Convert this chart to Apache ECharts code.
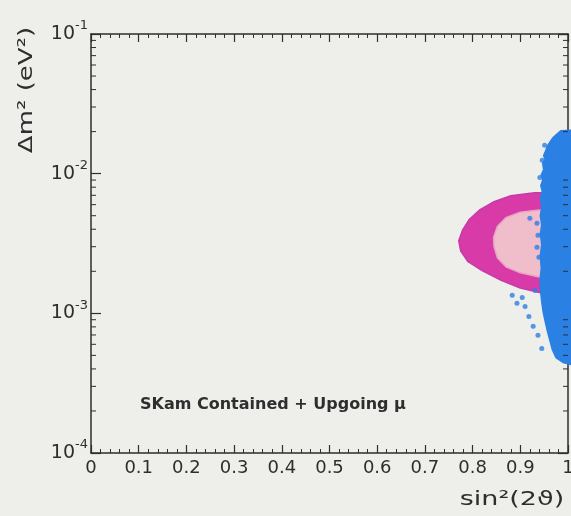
<!DOCTYPE html>
<html>
<head>
<meta charset="utf-8">
<script src="https://cdn.jsdelivr.net/npm/echarts@6/dist/echarts.min.js"></script>
<style>
  html, body { margin: 0; padding: 0; background: #eeeeea; }
  #chart { width: 571px; height: 516px; }
</style>
</head>
<body>
<div id="chart"></div>
<script>
// Outer (90% CL) allowed contour, [sin²2θ, Δm² in eV²]
const outerContour = [
  [1.0, 7.3e-3], [0.93, 7.3e-3], [0.88, 6.95e-3], [0.845, 6.3e-3], [0.815, 5.5e-3],
  [0.793, 4.7e-3], [0.779, 3.95e-3], [0.771, 3.3e-3], [0.775, 2.8e-3], [0.79, 2.35e-3],
  [0.82, 2.02e-3], [0.86, 1.72e-3], [0.9, 1.52e-3], [0.945, 1.4e-3], [1.0, 1.38e-3]
];

// Inner (68% CL) allowed contour
const innerContour = [
  [1.0, 5.5e-3], [0.94, 5.5e-3], [0.9, 5.3e-3], [0.87, 4.85e-3], [0.852, 4.2e-3],
  [0.844, 3.5e-3], [0.845, 3.0e-3], [0.852, 2.5e-3], [0.87, 2.15e-3], [0.9, 1.95e-3],
  [0.94, 1.82e-3], [1.0, 1.8e-3]
];

// Boundary of the dense blue point cloud
const cloudEdge = [
  [1.006, 2.05e-2], [0.985, 2.03e-2], [0.975, 1.9e-2], [0.968, 1.8e-2], [0.962, 1.68e-2],
  [0.957, 1.58e-2], [0.953, 1.45e-2], [0.949, 1.35e-2], [0.952, 1.27e-2], [0.947, 1.18e-2],
  [0.949, 1.07e-2], [0.944, 9.8e-3], [0.947, 9.0e-3], [0.943, 8.2e-3], [0.946, 7.5e-3],
  [0.942, 6.6e-3], [0.945, 5.8e-3], [0.942, 5.0e-3], [0.945, 4.3e-3], [0.942, 3.7e-3],
  [0.945, 3.1e-3], [0.942, 2.6e-3], [0.944, 2.1e-3], [0.941, 1.7e-3], [0.943, 1.4e-3],
  [0.945, 1.2e-3], [0.948, 1.02e-3], [0.952, 8.8e-4], [0.957, 7.4e-4], [0.962, 6.4e-4],
  [0.967, 5.5e-4], [0.975, 4.8e-4], [0.99, 4.45e-4], [1.006, 4.3e-4]
];

// Isolated points scattered off the cloud edge
const cloudStrays = [
  [0.920, 4.8e-3], [0.935, 4.42e-3], [0.937, 3.62e-3], [0.935, 2.97e-3], [0.939, 2.52e-3],
  [0.883, 1.35e-3], [0.904, 1.30e-3], [0.893, 1.18e-3], [0.910, 1.12e-3], [0.918, 9.5e-4],
  [0.927, 8.07e-4], [0.937, 6.96e-4], [0.945, 5.61e-4], [0.931, 1.46e-3], [0.951, 1.6e-2],
  [0.946, 1.25e-2], [0.941, 9.4e-3]
];

const xTickLabels = ['0', '0.1', '0.2', '0.3', '0.4', '0.5', '0.6', '0.7', '0.8', '0.9', '1'];
const yDecades = [-4, -3, -2, -1];

const FONT = 'DejaVu Sans';
const INK = '#2e2e2e';

// log-axis minor tick values (2..9 within each decade)
const logMinorValues = [];
for (let d = yDecades[0]; d < yDecades[yDecades.length - 1]; d++) {
  for (let m = 2; m <= 9; m++) logMinorValues.push([0, m * Math.pow(10, d)]);
}

function polygonRenderer(points, fill, stroke) {
  return function (params, api) {
    if (params.dataIndex !== 0) return null;
    return {
      type: 'polygon',
      shape: { points: points.map(function (p) { return api.coord(p); }) },
      style: { fill: fill, stroke: stroke || fill, lineWidth: 1.5 }
    };
  };
}

const chart = echarts.init(document.getElementById('chart'), null, { renderer: 'canvas' });

chart.setOption({
  backgroundColor: '#eeeeea',
  animation: false,
  grid: { left: 91, right: 3, top: 34, bottom: 63, containLabel: false, outerBoundsMode: 'none' },
  xAxis: [
    {
      type: 'value', min: 0, max: 1, interval: 0.1, position: 'bottom',
      axisLine: { onZero: false, lineStyle: { color: INK, width: 1.5 } },
      axisTick: { inside: true, length: 8, lineStyle: { color: INK, width: 1.2 } },
      minorTick: { show: true, splitNumber: 5, length: 4, lineStyle: { color: INK, width: 1 } },
      splitLine: { show: false },
      axisLabel: {
        margin: 6, fontFamily: FONT, fontSize: 18, color: INK,
        formatter: function (v, i) { return xTickLabels[i]; }
      }
    },
    {
      type: 'value', min: 0, max: 1, interval: 0.1, position: 'top',
      axisLine: { onZero: false, lineStyle: { color: INK, width: 1.5 } },
      axisTick: { inside: true, length: 8, lineStyle: { color: INK, width: 1.2 } },
      minorTick: { show: true, splitNumber: 5, length: 4, lineStyle: { color: INK, width: 1 } },
      splitLine: { show: false },
      axisLabel: { show: false }
    }
  ],
  yAxis: [
    {
      type: 'log', logBase: 10, min: 1e-4, max: 1e-1, position: 'left',
      axisLine: { onZero: false, lineStyle: { color: INK, width: 1.5 } },
      axisTick: { inside: true, length: 10, lineStyle: { color: INK, width: 1.2 } },
      splitLine: { show: false },
      axisLabel: {
        margin: 3, color: INK,
        formatter: function (v) {
          return '{b|10}{s|-' + Math.abs(Math.round(Math.log10(v))) + '}';
        },
        rich: {
          b: { fontFamily: FONT, fontSize: 19, color: INK },
          s: { fontFamily: FONT, fontSize: 13, color: INK, padding: [0, 0, 16, 0] }
        }
      }
    },
    {
      type: 'log', logBase: 10, min: 1e-4, max: 1e-1, position: 'right',
      axisLine: { onZero: false, lineStyle: { color: INK, width: 1.5 } },
      axisTick: { inside: true, length: 10, lineStyle: { color: INK, width: 1.2 } },
      splitLine: { show: false },
      axisLabel: { show: false }
    }
  ],
  series: [
    {
      type: 'custom', name: 'outer', z: 2,
      renderItem: polygonRenderer(outerContour, '#d83ba7', '#c43aa8'),
      data: outerContour
    },
    {
      type: 'custom', name: 'inner', z: 3,
      renderItem: polygonRenderer(innerContour, '#f0bdcb', '#e9a6c4'),
      data: innerContour
    },
    {
      type: 'custom', name: 'cloud', z: 4,
      renderItem: polygonRenderer(cloudEdge, '#2b80e4'),
      data: cloudEdge
    },
    {
      type: 'scatter', name: 'strays', z: 4,
      symbolSize: 5,
      itemStyle: { color: '#2b80e4' },
      data: cloudStrays
    },
    {
      type: 'custom', name: 'logMinorTicks', z: 5,
      renderItem: function (params, api) {
        const v = api.value(1);
        const l = api.coord([0, v]);
        const r = api.coord([1, v]);
        const st = { stroke: INK, lineWidth: 1 };
        return {
          type: 'group',
          children: [
            { type: 'line', shape: { x1: l[0], y1: l[1], x2: l[0] + 5, y2: l[1] }, style: st },
            { type: 'line', shape: { x1: r[0], y1: r[1], x2: r[0] - 5, y2: r[1] }, style: st }
          ]
        };
      },
      data: logMinorValues
    }
  ],
  graphic: [
    {
      type: 'text', x: 27, y: 90, rotation: Math.PI / 2, scaleX: 1.3,
      style: {
        text: 'Δm² (eV²)', font: '20px "DejaVu Sans"', fill: INK,
        align: 'center', verticalAlign: 'middle'
      }
    },
    {
      type: 'text', x: 512, y: 500, scaleX: 1.35,
      style: {
        text: 'sin²(2ϑ)', font: '20px "DejaVu Sans"', fill: INK,
        align: 'center', verticalAlign: 'middle'
      }
    },
    {
      type: 'text', x: 140, y: 405,
      style: {
        text: 'SKam Contained + Upgoing μ', font: 'bold 16px "DejaVu Sans"', fill: INK,
        align: 'left', verticalAlign: 'middle'
      }
    }
  ]
});
</script>
</body>
</html>
